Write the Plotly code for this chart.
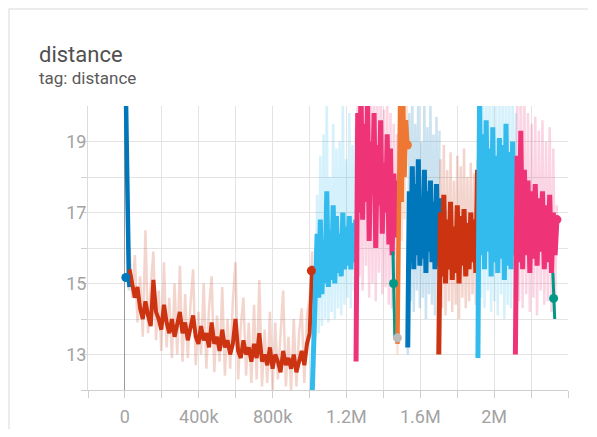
import numpy as np
import plotly.graph_objects as go

# ---------------- data ----------------
x_tick_vals = [-200000, 0, 200000, 400000, 600000, 800000, 1000000, 1200000,
               1400000, 1600000, 1800000, 2000000, 2200000, 2400000]
x_tick_text = ["", "0", "", "400k", "", "800k", "", "1.2M", "", "1.6M", "", "2M", "", ""]
y_tick_vals = [12, 13, 14, 15, 16, 17, 18, 19]
y_tick_text = ["", "13", "", "15", "", "17", "", "19"]

run_a_steps = (0, 25000)
run_a_smooth = [22.0, 20.5, 19.2, 17.6, 16.2, 15.4, 15.1, 14.9]
run_a_raw = [22.0, 20.8, 19.0, 18.0, 15.8, 15.9, 14.8, 15.2]

run_b_steps = (25000, 1015000)
run_b_smooth = [15.4, 15.0, 14.6, 14.9, 14.3, 14.0, 14.5, 14.1, 13.8, 15.1,
                14.2, 14.0, 13.7, 14.4, 13.9, 13.6, 14.0, 13.5, 13.8, 14.2,
                13.6, 13.9, 13.4, 13.7, 14.1, 13.5, 13.3, 13.8, 13.4, 13.6,
                13.2, 13.9, 13.3, 13.5, 13.1, 13.7, 13.2, 13.4, 13.0, 13.3,
                14.0, 13.1, 12.9, 13.4, 13.0, 13.2, 12.8, 13.3, 12.9, 13.6,
                12.8, 13.0, 12.7, 13.2, 12.6, 13.0, 12.8, 12.5, 13.1, 12.7,
                12.9, 12.6, 13.0, 12.5, 12.8, 13.1, 12.7, 13.3, 13.6, 15.5]
run_b_raw = [16.0, 14.6, 15.8, 13.9, 15.2, 13.5, 16.5, 13.6, 14.9, 15.9,
             13.4, 14.8, 13.1, 15.6, 13.2, 14.6, 12.9, 15.0, 13.0, 15.5,
             12.8, 14.7, 12.9, 14.4, 15.4, 12.7, 14.2, 13.0, 15.0, 12.6,
             14.3, 15.2, 12.5, 14.1, 12.8, 14.9, 12.4, 14.0, 12.6, 14.5,
             15.6, 12.3, 13.8, 14.6, 12.4, 13.9, 12.2, 14.4, 12.3, 15.1,
             12.1, 13.7, 12.2, 14.2, 12.0, 13.9, 12.3, 13.6, 14.8, 12.1,
             13.5, 12.0, 14.0, 12.1, 13.6, 14.3, 12.2, 14.1, 14.6, 15.9]

run_c_steps = (1015000, 1250000)
run_c_smooth = [12.0, 13.2, 14.4, 16.4, 14.6, 16.8, 14.7, 16.2, 15.0, 17.6,
                14.9, 16.5, 15.1, 17.2, 15.0, 16.9, 15.3, 16.4, 15.2, 17.0,
                15.4, 16.6, 15.5, 16.9, 15.4, 16.7, 15.6, 16.8]
run_c_raw = [12.0, 14.0, 13.5, 17.5, 13.6, 18.6, 13.8, 19.2, 14.0, 20.3,
             13.9, 18.0, 14.2, 19.5, 14.0, 18.8, 14.3, 19.0, 14.1, 20.2,
             14.4, 18.5, 14.6, 19.8, 14.3, 18.9, 14.8, 19.4]

run_d_steps = (1252000, 1474000)
run_d_smooth = [12.8, 19.8, 17.0, 20.5, 16.8, 19.5, 17.3, 20.2, 16.2, 19.0,
                17.5, 19.8, 16.0, 18.9, 17.2, 19.6, 16.4, 18.4, 17.0, 19.2,
                16.1, 18.8, 15.8, 18.1, 16.3, 17.9]
run_d_raw = [13.5, 20.8, 15.2, 21.0, 14.8, 20.5, 15.5, 21.0, 14.6, 20.4,
             15.0, 20.9, 14.5, 20.1, 15.3, 20.6, 14.7, 19.9, 14.9, 20.3,
             14.4, 19.8, 14.3, 19.5, 14.8, 19.2]

run_e_steps = (1452000, 1462000)
run_e_smooth = [15.9, 15.0, 13.5]
run_e_raw = [15.9, 14.6, 13.4]

run_g_steps = (1476000, 1530000)
run_g_smooth = [13.3, 17.8, 20.5, 17.3, 20.2, 18.0, 19.6, 18.9]
run_g_raw = [13.0, 16.5, 21.0, 16.2, 21.0, 16.8, 20.5, 19.2]

run_h_steps = (1532000, 1704000)
run_h_smooth = [13.2, 17.6, 15.6, 18.3, 15.4, 17.8, 15.8, 18.5, 15.5, 17.2,
                15.7, 18.2, 15.3, 17.6, 15.9, 17.9, 15.6, 17.3, 15.4, 17.8,
                15.5, 17.4]
run_h_raw = [13.0, 19.8, 14.5, 20.4, 14.2, 19.5, 14.8, 20.6, 14.3, 19.0,
             14.6, 20.2, 14.0, 19.4, 14.7, 20.0, 14.4, 19.2, 14.1, 19.7,
             14.5, 19.3]

run_i_steps = (1700000, 1910000)
run_i_smooth = [13.0, 17.0, 15.2, 17.5, 15.0, 16.8, 15.4, 17.3, 15.1, 16.6,
                15.3, 17.2, 15.0, 16.9, 15.5, 17.1, 15.2, 16.7, 15.4, 17.0,
                15.6, 16.8, 15.3, 18.2]
run_i_raw = [13.2, 18.5, 14.3, 18.9, 14.1, 18.2, 14.5, 18.7, 14.2, 17.9,
             14.4, 18.6, 14.0, 18.3, 14.6, 18.8, 14.3, 18.0, 14.5, 18.4,
             14.7, 18.1, 14.4, 18.5]

run_j_steps = (1912000, 2118000)
run_j_smooth = [12.9, 20.3, 15.8, 19.2, 15.4, 19.6, 15.9, 18.8, 15.2, 19.4,
                15.6, 18.6, 15.3, 19.1, 15.7, 18.9, 15.1, 19.5, 15.5, 18.7,
                15.4, 19.0, 15.8, 18.4]
run_j_raw = [13.0, 20.8, 14.6, 20.5, 14.3, 20.9, 14.8, 20.2, 14.2, 20.6,
             14.5, 20.0, 14.1, 20.4, 14.7, 20.3, 14.0, 20.7, 14.4, 20.1,
             14.3, 20.5, 14.6, 19.8]

run_k_steps = (2115000, 2340000)
run_k_smooth = [13.0, 18.6, 15.6, 19.3, 15.4, 18.2, 15.8, 17.9, 15.3, 17.6,
                15.7, 17.8, 15.5, 17.4, 15.9, 17.6, 15.4, 17.2, 15.6, 17.5,
                15.3, 17.0, 15.8, 16.8]
run_k_raw = [13.4, 20.4, 14.5, 20.8, 14.3, 20.2, 14.7, 19.8, 14.2, 19.5,
             14.6, 19.7, 14.1, 19.3, 14.8, 19.6, 14.4, 19.0, 14.5, 19.4,
             14.2, 18.8, 14.6, 17.2]

run_l_steps = (2318000, 2328000)
run_l_smooth = [15.3, 14.6, 14.0]
run_l_raw = [15.3, 14.6, 14.0]

dot_x = [5000, 1010000, 1455000, 1476000, 1530000, 2340000, 2322000]
dot_y = [15.17, 15.36, 15.0, 13.47, 18.9, 16.8, 14.58]
dot_color_keys = ["blue", "red", "teal", "grey", "orange", "magenta", "teal"]

COLORS = {
    "blue": "#0077bb", "cyan": "#33bbee", "teal": "#009988", "orange": "#ee7733",
    "red": "#cc3311", "magenta": "#ee3377", "grey": "#bbbbbb",
}

runs = [
    ("blue", run_a_steps, run_a_smooth, run_a_raw, 4.5),
    ("red", run_b_steps, run_b_smooth, run_b_raw, 4.0),
    ("cyan", run_c_steps, run_c_smooth, run_c_raw, 5.0),
    ("magenta", run_d_steps, run_d_smooth, run_d_raw, 5.0),
    ("teal", run_e_steps, run_e_smooth, run_e_raw, 3.0),
    ("orange", run_g_steps, run_g_smooth, run_g_raw, 4.5),
    ("blue", run_h_steps, run_h_smooth, run_h_raw, 5.0),
    ("red", run_i_steps, run_i_smooth, run_i_raw, 5.0),
    ("cyan", run_j_steps, run_j_smooth, run_j_raw, 5.0),
    ("magenta", run_k_steps, run_k_smooth, run_k_raw, 5.0),
    ("teal", run_l_steps, run_l_smooth, run_l_raw, 3.0),
]

fig = go.Figure()

for ck, (s0, s1), sm, raw, lw in runs:
    xs = np.linspace(s0, s1, len(raw))
    fig.add_trace(go.Scatter(x=xs, y=raw, mode="lines",
                             line=dict(color=COLORS[ck], width=2.5),
                             opacity=0.2, hoverinfo="skip", showlegend=False))
for ck, (s0, s1), sm, raw, lw in runs:
    xs = np.linspace(s0, s1, len(sm))
    fig.add_trace(go.Scatter(x=xs, y=sm, mode="lines",
                             line=dict(color=COLORS[ck], width=lw),
                             showlegend=False))

fig.add_trace(go.Scatter(x=dot_x, y=dot_y, mode="markers",
                         marker=dict(size=9, color=[COLORS[k] for k in dot_color_keys]),
                         showlegend=False))

OFF = 8  # page body margin
L, R, T, B = 88 - OFF, 568 - OFF, 106 - OFF, 390 - OFF
W, H = 580, 421
pw, ph = R - L, B - T


def px_x(p):
    return (p - OFF - L) / pw


def px_y(p):
    return (B - (p - OFF)) / ph


fig.update_layout(
    width=W, height=H,
    margin=dict(l=L, r=W - R, t=T, b=H - B, pad=0, autoexpand=False),
    paper_bgcolor="white", plot_bgcolor="white",
    font=dict(family="Roboto, sans-serif", color="#a3a3a3", size=18),
    xaxis=dict(range=[-200000, 2400000], tickvals=x_tick_vals, ticktext=x_tick_text,
               showgrid=True, gridcolor="#e3e3e3", gridwidth=1,
               zeroline=True, zerolinecolor="#9a9a9a", zerolinewidth=1.2,
               showline=True, linecolor="#cfcfcf", linewidth=1,
               ticks="outside", ticklen=7, tickcolor="#cfcfcf",
               ticklabelstandoff=3, automargin=False, fixedrange=True),
    yaxis=dict(range=[12, 20], tickvals=y_tick_vals, ticktext=y_tick_text,
               showgrid=True, gridcolor="#e3e3e3", gridwidth=1,
               zeroline=False, showline=True, linecolor="#dcdcdc", linewidth=1,
               ticks="outside", ticklen=6, tickcolor="#cfcfcf",
               ticklabelstandoff=-9, automargin=False, fixedrange=True),
    shapes=[dict(type="rect", xref="paper", yref="paper",
                 x0=px_x(9), x1=px_x(700), y0=px_y(600), y1=px_y(9),
                 line=dict(color="#e6e6e6", width=1.5), layer="below")],
    annotations=[
        dict(text="distance", xref="paper", yref="paper", x=px_x(37), y=px_y(55),
             xanchor="left", yanchor="middle", showarrow=False,
             font=dict(size=22, color="#505050", family="Roboto, sans-serif")),
        dict(text="tag: distance", xref="paper", yref="paper", x=px_x(37), y=px_y(78),
             xanchor="left", yanchor="middle", showarrow=False,
             font=dict(size=17, color="#5a5a5a", family="Roboto, sans-serif")),
    ],
)

fig.write_html("out.html")
